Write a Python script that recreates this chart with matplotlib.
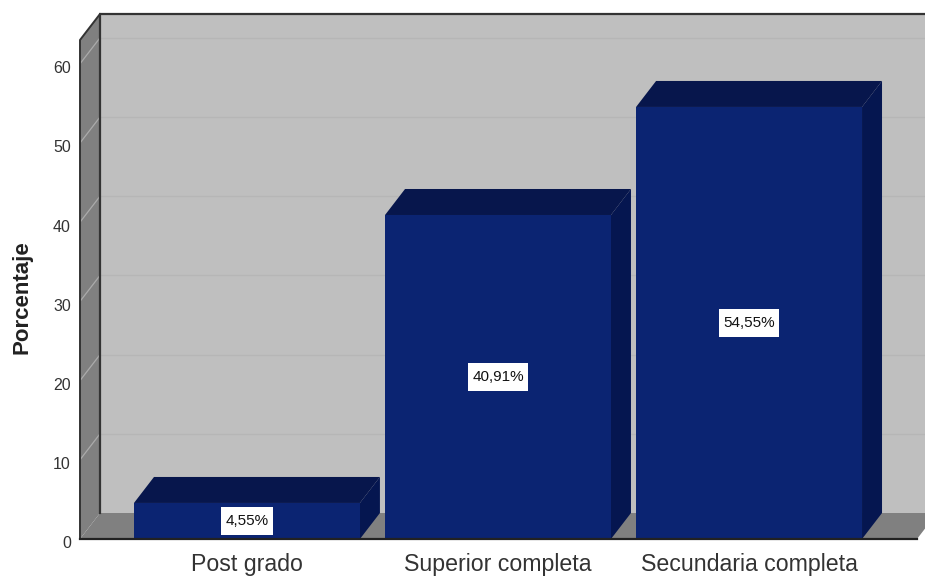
import matplotlib
matplotlib.use("Agg")
import matplotlib.pyplot as plt
from matplotlib.patches import Polygon, Rectangle
from matplotlib.transforms import ScaledTranslation

# Datos
categorias = ["Post grado", "Superior completa", "Secundaria completa"]
porcentajes = [4.55, 40.91, 54.55]
etiquetas = ["4,55%", "40,91%", "54,55%"]
ticks_y = [0, 10, 20, 30, 40, 50, 60]

# Colores
PARED = "#BFBFBF"
PARED_LAT = "#808080"
FRENTE = "#0B2472"
TECHO = "#07164C"
LADO = "#051650"
BORDE = "#333333"
TEXTO = "#333333"

plt.rcParams["font.family"] = "Liberation Sans"

fig = plt.figure(figsize=(9.25, 5.77), dpi=100)
ax = fig.add_axes([80 / 925, 1 - 539 / 577, 837 / 925, 499 / 577])
ax.set_xlim(-0.665, 2.669)
ax.set_ylim(0, 499 / 7.92)

# Profundidad del efecto 3D, en unidades de datos
dx = 20 / 251
dy = 26 / 7.92
x0, x1 = ax.get_xlim()
y1 = ax.get_ylim()[1]


def cara(puntos, color, z):
    ax.add_patch(Polygon(puntos, closed=True, facecolor=color, edgecolor="none",
                         zorder=z, clip_on=False))


# Pared del fondo, pared lateral y piso
cara([(x0 + dx, dy), (x1 + dx, dy), (x1 + dx, y1 + dy), (x0 + dx, y1 + dy)], PARED, 1)
cara([(x0, 0), (x0 + dx, dy), (x0 + dx, y1 + dy), (x0, y1)], PARED_LAT, 2)
cara([(x0, 0), (x1, 0), (x1 + dx, dy), (x0 + dx, dy)], PARED_LAT, 2)

# Lineas de la cuadricula
for t in ticks_y[1:]:
    ax.plot([x0 + dx, x1 + dx], [t + dy, t + dy], color="#B6B6B6", lw=1.0, zorder=3, clip_on=False)
    ax.plot([x0, x0 + dx], [t, t + dy], color="#ABABAB", lw=0.9, zorder=3, clip_on=False)

# Bordes de las paredes
ax.plot([x0 + dx, x0 + dx, x1 + dx], [dy, y1 + dy, y1 + dy], color=BORDE, lw=1.6, zorder=4, clip_on=False)
ax.plot([x0, x0, x0 + dx], [0, y1, y1 + dy], color=BORDE, lw=1.4, zorder=4, clip_on=False)

# Barras
ancho = 0.9
textos = []
for i, valor in enumerate(porcentajes):
    izq = i - ancho / 2
    der = i + ancho / 2
    cara([(der, 0), (der + dx, dy), (der + dx, valor + dy), (der, valor)], LADO, 5)
    cara([(izq, valor), (der, valor), (der + dx, valor + dy), (izq + dx, valor + dy)], TECHO, 5)
    ax.bar(i, valor, width=ancho, color=FRENTE, zorder=6)
    textos.append(ax.text(i, valor / 2, etiquetas[i], ha="center", va="center", fontsize=11,
                          color="#111111", zorder=9))

# Cajas blancas detras de cada etiqueta
render = fig.canvas.get_renderer()
alto_caja = 28 / 7.92
for i, valor in enumerate(porcentajes):
    ext = textos[i].get_window_extent(render).transformed(ax.transData.inverted())
    ancho_caja = ext.width + 8 / 251
    ax.add_patch(Rectangle((i - ancho_caja / 2, valor / 2 - alto_caja / 2), ancho_caja, alto_caja,
                           facecolor="white", edgecolor="none", zorder=8))

# Ejes
for lado in ["top", "right", "left"]:
    ax.spines[lado].set_visible(False)
ax.spines["bottom"].set_color("#222222")
ax.spines["bottom"].set_linewidth(1.6)
ax.spines["bottom"].set_zorder(7)
ax.set_xticks(range(len(categorias)))
ax.set_xticklabels(categorias, fontsize=16.7, color=TEXTO)
ax.set_yticks(ticks_y)
ax.set_yticklabels([str(t) for t in ticks_y], fontsize=11.5, color=TEXTO)
ax.tick_params(axis="both", length=0)
ax.tick_params(axis="x", pad=10)
ax.tick_params(axis="y", pad=6.5)
bajar = ScaledTranslation(0, -2.5 / 72, fig.dpi_scale_trans)
for lab in ax.get_yticklabels():
    lab.set_transform(lab.get_transform() + bajar)
ax.patch.set_visible(False)
ax.set_ylabel("Porcentaje", fontsize=16, fontweight="bold", color="#222222")
ax.yaxis.set_label_coords(-48 / 837, 0.485)

fig.savefig("out.png", dpi=100)
